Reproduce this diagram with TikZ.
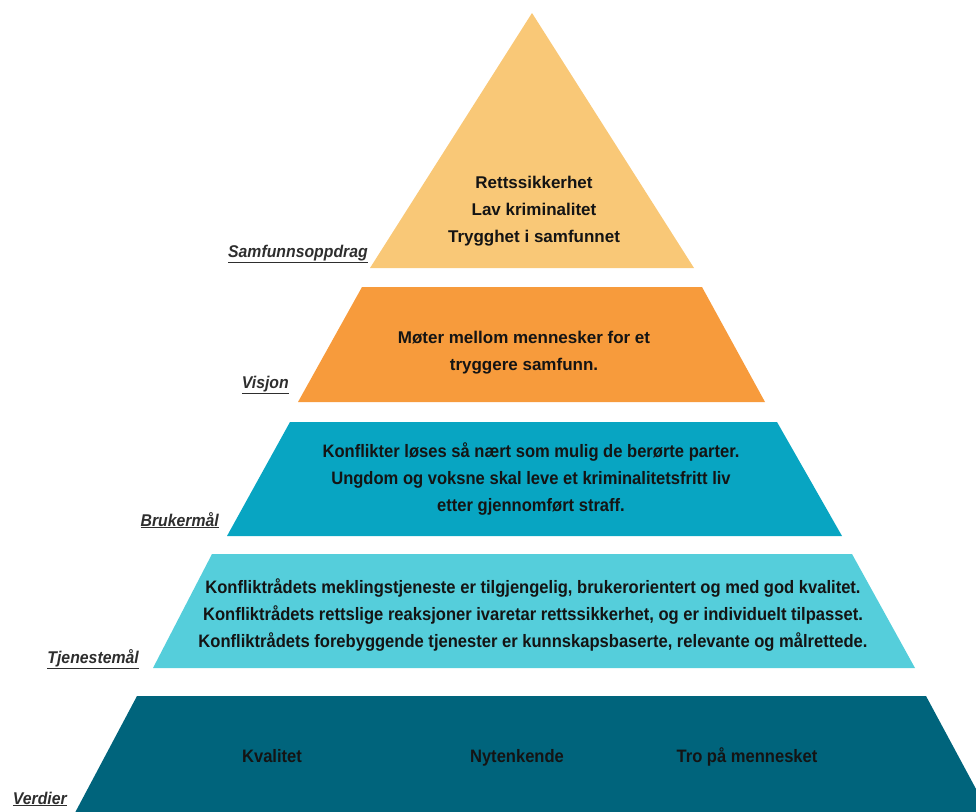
\documentclass[tikz,border=0pt]{standalone}
\usepackage{fontspec}
\setmainfont{Liberation Sans}
\newfontfamily\narrowsans[FakeStretch=0.92]{Liberation Sans}
\newfontfamily\labelsans[FakeStretch=0.93]{Liberation Sans}
\definecolor{sandtop}{HTML}{F9C877}
\definecolor{orangemid}{HTML}{F79B3C}
\definecolor{tealmid}{HTML}{08A5C2}
\definecolor{tealpale}{HTML}{55CEDB}
\definecolor{tealdeep}{HTML}{00647C}
\definecolor{inktext}{HTML}{141414}
\definecolor{inklabel}{HTML}{2E2E2E}
\tikzset{
  tiertext/.style={font=\bfseries\fontsize{17}{27}\selectfont,text=inktext,align=center},
  narrowtext/.style={font=\narrowsans\bfseries\fontsize{18}{27}\selectfont,text=inktext,align=center},
  levelname/.style={font=\labelsans\bfseries\itshape\fontsize{17}{19}\selectfont,text=inklabel,anchor=base east,inner sep=0pt}
}
\begin{document}
\begin{tikzpicture}[x=1pt,y=-1pt]
 \useasboundingbox (0,0) rectangle (976,811);
 \clip (0,0) rectangle (976,811);
 \fill[sandtop]   (532,13) -- (694,268) -- (370,268) -- cycle;
 \fill[orangemid] (362,287) -- (702,287) -- (765,402) -- (298,402) -- cycle;
 \fill[tealmid]   (290,422) -- (777,422) -- (842,536) -- (227,536) -- cycle;
 \fill[tealpale]  (212,554) -- (852,554) -- (915,668) -- (153,668) -- cycle;
 \fill[tealdeep]  (137,696) -- (926,696) -- (1004,841) -- (60,841) -- cycle;

 \node[tiertext] (mission) at (534,211) {Rettssikkerhet\\Lav kriminalitet\\Trygghet i samfunnet};
 \node[tiertext] (vision) at (524,353) {Møter mellom mennesker for et\\tryggere samfunn.};
 \node[narrowtext] (usergoals) at (531,479) {Konflikter løses så nært som mulig de berørte parter.\\Ungdom og voksne skal leve et kriminalitetsfritt liv\\etter gjennomført straff.};
 \node[narrowtext] (servicegoals) at (533,615) {Konfliktrådets meklingstjeneste er tilgjengelig, brukerorientert og med god kvalitet.\\Konfliktrådets rettslige reaksjoner ivaretar rettssikkerhet, og er individuelt tilpasset.\\Konfliktrådets forebyggende tjenester er kunnskapsbaserte, relevante og målrettede.};
 \node[narrowtext,anchor=base] (quality) at (272,762) {Kvalitet};
 \node[narrowtext,anchor=base] (renewal) at (517,762) {Nytenkende};
 \node[narrowtext,anchor=base] (trust) at (747,762) {Tro på mennesket};

 \node[levelname] (lblmission) at (368,257) {\underline{Samfunnsoppdrag}};
 \node[levelname] (lblvision) at (289,388) {\underline{Visjon}};
 \node[levelname] (lblusers) at (219,526) {\underline{Brukermål}};
 \node[levelname] (lblservice) at (139,663) {\underline{Tjenestemål}};
 \node[levelname] (lblvalues) at (67,804) {\underline{Verdier}};
\end{tikzpicture}
\end{document}
